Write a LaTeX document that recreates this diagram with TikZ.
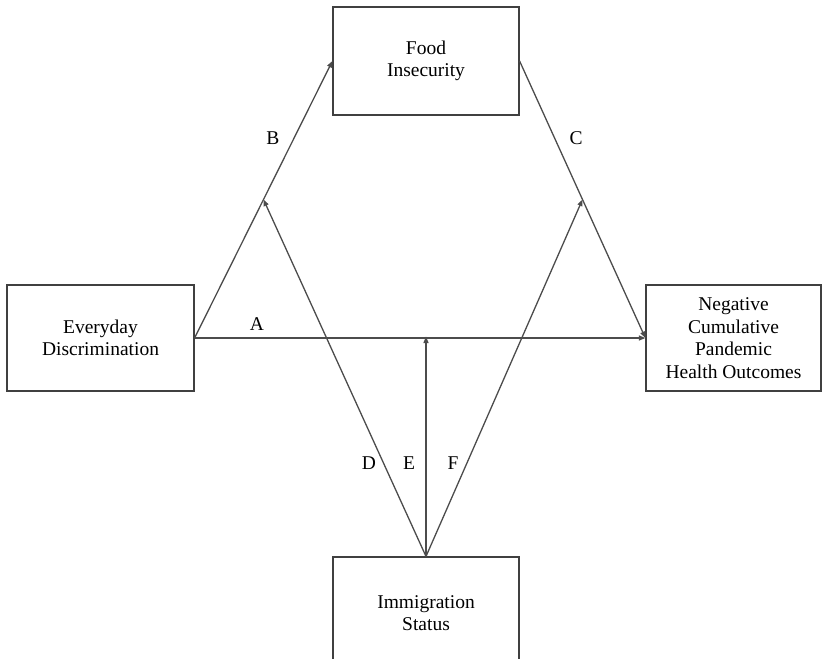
\documentclass[tikz,border=0pt]{standalone}
\usepackage{fontspec}
\setmainfont{Liberation Serif}
\usetikzlibrary{arrows.meta,calc}
\begin{document}
\begin{tikzpicture}[x=1pt,y=-1pt,
  box/.style={draw=black!75,line width=1.2pt,rectangle,align=center,
    font=\fontsize{19.5}{22.5}\selectfont,inner sep=0pt},
  conn/.style={draw=black!70,line width=1.3pt,-{Triangle[length=6.5pt,width=5pt]}},
  lab/.style={font=\fontsize{19.5}{22}\selectfont,inner sep=0pt}]
\useasboundingbox (0,0) rectangle (823,659);
\clip (0,0) rectangle (823,659);
\node[box,minimum width=186pt,minimum height=108pt] (food) at (426,61) {Food\\Insecurity};
\node[box,minimum width=187pt,minimum height=106pt] (ed) at (100.5,338) {Everyday\\Discrimination};
\node[box,minimum width=175pt,minimum height=106pt] (neg) at (733.5,338) {Negative\\Cumulative\\Pandemic\\Health Outcomes};
\node[box,minimum width=186pt,minimum height=112pt] (imm) at (426,613) {Immigration\\Status};
\coordinate (bmid) at ($(ed.east)!0.5!(food.west)$);
\coordinate (cmid) at ($(food.east)!0.5!(neg.west)$);
\coordinate (amid) at (imm.north |- ed.east);
\draw[conn] (ed.east) -- (food.west);
\draw[conn] (ed.east) -- (neg.west);
\draw[conn] (food.east) -- (neg.west);
\draw[conn] (imm.north) -- (bmid);
\draw[conn] (imm.north) -- ([yshift=1.5pt]amid);
\draw[conn] (imm.north) -- (cmid);
\node[lab] (lA) at (257,324) {A};
\node[lab] (lB) at (273,138) {B};
\node[lab] (lC) at (576,138) {C};
\node[lab] (lD) at (369,463) {D};
\node[lab] (lE) at (409,463) {E};
\node[lab] (lF) at (453,463) {F};
\end{tikzpicture}
\end{document}
